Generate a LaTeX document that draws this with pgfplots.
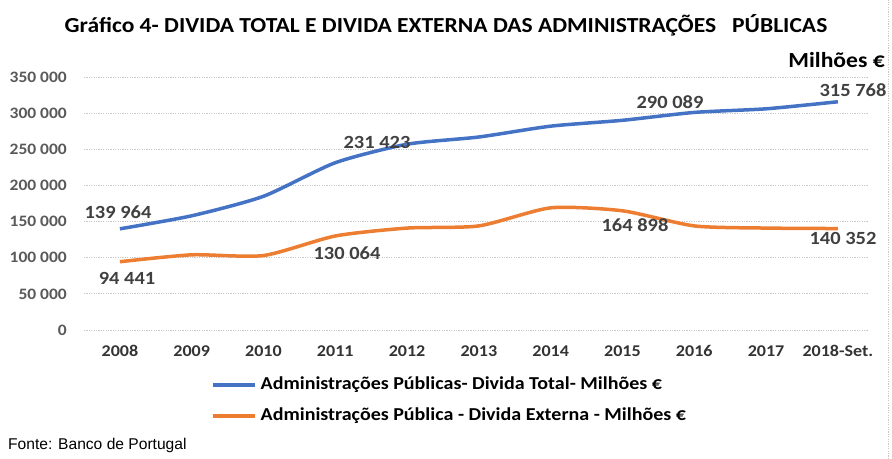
\documentclass[border=0pt]{standalone}
\usepackage{pgfplots}
\pgfplotsset{compat=1.18}
\usepackage{fontspec}
\setmainfont{Carlito}[FakeStretch=1.1]
\newfontfamily\fontefont{Liberation Sans}
\definecolor{cblue}{HTML}{4472C4}
\definecolor{corange}{HTML}{ED7D31}
\definecolor{tickgray}{HTML}{595959}
\definecolor{labgray}{HTML}{404040}
\definecolor{gridgray}{HTML}{C8C8C8}
\newcommand{\fs}[1]{\fontsize{#1bp}{1.2\dimexpr #1bp\relax}\selectfont}
\begin{document}
\begin{tikzpicture}
\path[use as bounding box] (0,0) rectangle (892bp,459bp);
\begin{axis}[
  at={(84bp,129bp)}, anchor=south west,
  width=784bp, height=253bp, scale only axis,
  xmin=-0.5, xmax=10.42, ymin=0, ymax=350000,
  scaled y ticks=false,
  axis line style={draw=none},
  major tick length=0pt,
  xtick={0,...,10},
  xticklabels={2008,2009,2010,2011,2012,2013,2014,2015,2016,2017,2018-Set.},
  ytick={0,50000,100000,150000,200000,250000,300000,350000},
  yticklabels={0,50 000,100 000,150 000,200 000,250 000,300 000,350 000},
  yticklabel style={font=\fs{15.9}\bfseries, text=tickgray, anchor=east, inner sep=0pt, xshift=-17bp},
  xticklabel style={font=\fs{16.4}\bfseries, text=labgray!80!black, anchor=base, inner sep=0pt, yshift=-27bp},
  ymajorgrids,
  major grid style={color=gridgray, line width=0.8bp, dash pattern=on 1.2bp off 1.2bp},
  clip=false,
  legend cell align=left,
  legend style={at={(0.162,-0.2787)}, anchor=west, draw=none, fill=none, inner sep=0pt,
    font=\fs{18.2}\bfseries, row sep=16bp,
    nodes={inner sep=0pt, text height=12bp, text depth=3bp},
    /tikz/every odd column/.style={column sep=4bp}},
  legend image code/.code={\draw[#1] (0bp,0bp) -- (42bp,0bp);},
]
\addplot[color=cblue, line width=3.5bp, smooth, tension=0.4] coordinates {
 (0,139964) (1,158000) (2,185000) (3,231423) (4,257000) (5,267000)
 (6,282000) (7,290089) (8,301000) (9,306000) (10,315768)};
\addlegendentry{Administrações Públicas- Divida Total- Milhões €}
\addplot[color=corange, line width=3.5bp, smooth, tension=0.4] coordinates {
 (0,94441) (1,104000) (2,103000) (3,130064) (4,141000) (5,144000)
 (6,169000) (7,164898) (8,144000) (9,141000) (10,140352)};
\addlegendentry{Administrações Pública - Divida Externa - Milhões €}
\end{axis}
\begin{scope}[every node/.style={font=\fs{18.6}\bfseries, text=labgray, inner sep=0pt}]
\node at (118bp,247bp) {139 964};
\node at (127bp,181bp) {94 441};
\node at (347bp,206bp) {130 064};
\node at (377bp,317bp) {231 423};
\node at (670bp,357bp) {290 089};
\node at (635bp,234bp) {164 898};
\node at (853bp,369bp) {315 768};
\node at (843bp,221bp) {140 352};
\end{scope}
\node[anchor=base, inner sep=0pt, font=\fs{21.4}\bfseries] at (446bp,426bp) {Gráfico 4- DIVIDA TOTAL E DIVIDA EXTERNA DAS ADMINISTRAÇÕES\ \ \ PÚBLICAS};
\node[anchor=base east, inner sep=0pt, font=\fs{21.5}\bfseries] at (885bp,391bp) {Milhões €};
\node[anchor=base west, inner sep=0pt, font=\fontefont\fs{15.6}] at (8bp,10bp) {Fonte: Banco de Portugal};
\draw[gridgray, line width=0.8bp, dash pattern=on 1.2bp off 1.2bp] (888.5bp,0bp) -- (888.5bp,459bp);
\end{tikzpicture}
\end{document}
